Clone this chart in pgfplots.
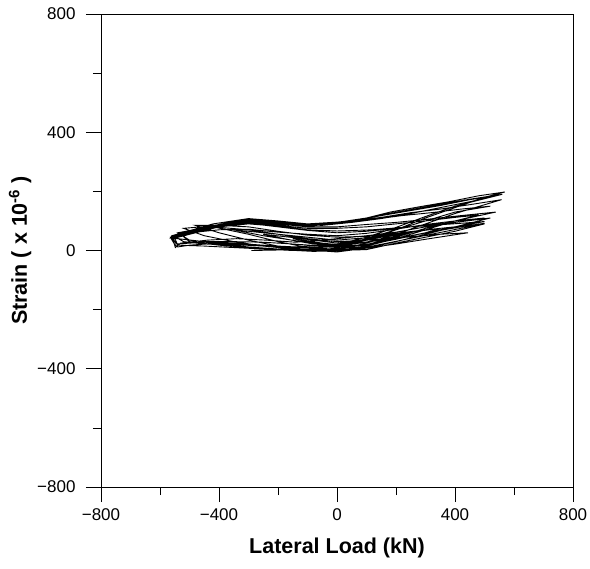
\documentclass[border=0pt]{standalone}
\usepackage{pgfplots}
\pgfplotsset{compat=1.18}
\usepackage{fontspec}
\setmainfont{Liberation Sans}
\begin{document}
\begin{tikzpicture}
\begin{axis}[
  name=ax,
  scale only axis,
  width=472bp, height=473bp,
  xmin=-800, xmax=800, ymin=-800, ymax=800,
  xtick={-800,-400,0,400,800},
  ytick={-800,-400,0,400,800},
  xticklabels={{−800},{−400},{0},{400},{800}},
  yticklabels={{−800},{−400},{0},{400},{800}},
  minor tick num=1,
  tick align=outside,
  xtick pos=left, ytick pos=left,
  major tick length=15bp,
  minor tick length=8bp,
  every tick/.style={black, line width=0.6bp},
  axis line style={line width=0.6bp},
  tick label style={font=\fontsize{17bp}{19bp}\selectfont},
  xticklabel style={yshift=-3bp},
  yticklabel style={xshift=-7bp},
  xlabel={\textbf{Lateral Load (kN)}},
  ylabel={\textbf{Strain ( x 10\textsuperscript{-6} )}},
  label style={font=\fontsize{21.5bp}{24bp}\selectfont},
  xlabel style={yshift=-11bp},
  ylabel style={yshift=-1bp},
]
\addplot[black, line width=0.9bp] coordinates {
(0,20) (50,25) (100,35) (150,45) (100,38) (50,28) (0,20) (-50,25) (-100,33) (-150,40) (-100,30) (-50,22) (0,18)
(80,25) (160,40) (250,60) (170,48) (80,35) (0,25) (-80,35) (-160,45) (-250,55) (-170,38) (-80,22) (0,15)
(100,20) (200,40) (300,60) (350,75) (250,62) (120,45) (0,35) (-100,45) (-200,55) (-300,65) (-350,70) (-250,50) (-120,30) (0,12)
(100,8) (200,22) (300,38) (444,60) (350,55) (200,42) (100,35) (0,30) (-100,40) (-200,55) (-300,70) (-420,80) (-300,55) (-200,30) (-100,10) (0,0)
(100,3) (200,25) (300,45) (400,65) (500,90) (400,80) (300,70) (200,58) (100,48) (0,45) (-100,52) (-200,65) (-300,80) (-400,85) (-480,85) (-400,60) (-300,35) (-200,15) (-100,2) (0,-5)
(100,8) (200,30) (300,55) (400,80) (520,110) (400,95) (300,85) (200,75) (100,65) (0,60) (-100,68) (-200,80) (-300,92) (-400,85) (-520,75) (-450,50) (-350,30) (-250,15) (-150,5) (0,0)
(100,15) (200,40) (300,70) (400,100) (538,130) (420,118) (300,105) (200,95) (100,88) (0,80) (-100,80) (-200,90) (-300,100) (-400,85) (-540,60) (-500,35) (-400,22) (-300,12) (-200,5) (-100,0) (0,2)
(100,25) (200,55) (300,90) (400,125) (558,172) (450,155) (350,140) (250,128) (150,112) (50,100) (0,92) (-100,85) (-200,95) (-300,102) (-400,88) (-555,50) (-520,30) (-450,22) (-350,20) (-250,15) (-150,10) (0,8)
(100,35) (200,70) (300,110) (400,145) (500,180) (569,198) (480,185) (380,165) (280,148) (180,130) (100,110) (0,95) (-100,88) (-200,98) (-300,105) (-400,88) (-500,65) (-565,45) (-550,20) (-540,12) (-500,18) (-400,25) (-300,20) (-200,15) (-100,10) (0,15)
(100,40) (200,70) (300,100) (400,130) (520,150) (420,140) (320,128) (220,118) (120,105) (0,90) (-100,85) (-200,93) (-300,98) (-400,80) (-550,42) (-540,18) (-450,15) (-350,10) (-250,5) (-150,0) (0,5)
(100,20) (200,45) (300,75) (400,100) (480,120) (400,112) (300,100) (200,90) (100,80) (0,75) (-100,75) (-200,85) (-300,95) (-400,80) (-530,55) (-500,30) (-400,18) (-300,10) (-200,5) (-100,5) (0,10)
(100,18) (200,38) (300,60) (400,80) (500,98) (420,92) (320,85) (220,78) (120,70) (0,66) (-100,70) (-200,82) (-300,90) (-420,78) (-560,48) (-545,22) (-450,28) (-350,25) (-250,18) (-150,12) (0,20)
(100,45) (200,78) (300,115) (400,150) (560,190) (460,175) (360,158) (260,140) (160,122) (60,102) (0,96) (-100,90) (-200,100) (-300,108) (-420,90) (-560,50) (-548,10) (-530,25) (-440,35) (-340,40) (-240,35) (-140,28) (0,40)
(100,50) (200,62) (300,80) (400,95) (500,110) (400,100) (300,88) (200,72) (100,58) (0,50) (-100,55) (-200,62) (-300,72) (-400,70) (-500,60)
(-450,72) (-350,95) (-250,100) (-150,88) (-50,85) (50,95) (150,108) (250,125) (350,145) (450,165) (540,185) (450,172) (350,152) (250,135) (150,118) (50,100) (-50,88) (-150,92) (-250,102) (-350,98) (-450,78) (-560,44)
(-470,68) (-380,88) (-290,96) (-200,92) (-100,86) (0,92) (-100,82) (-200,88) (-290,93) (-380,84) (-470,65) (-560,42)
(-540,40) (-450,30) (-350,30) (-250,28) (-150,22) (-50,15) (50,22) (150,35) (250,50) (350,68) (450,85) (500,92)
(420,75) (320,55) (220,35) (120,15) (20,0) (-80,-3) (-180,2) (-290,0)
};
\end{axis}
\pgfresetboundingbox
\path (ax.south west) ++(-101bp,-81bp) coordinate (bl);
\path (ax.north east) ++(17bp,14bp) coordinate (tr);
\path (bl) rectangle (tr);
\end{tikzpicture}
\end{document}
